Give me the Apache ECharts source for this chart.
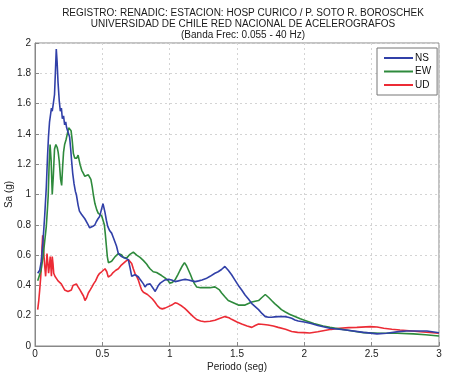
<!DOCTYPE html>
<html>
<head>
<meta charset="utf-8">
<script src="https://cdn.jsdelivr.net/npm/echarts@6/dist/echarts.min.js"></script>
<style>html,body{margin:0;padding:0;background:#fff}#c{width:450px;height:377px}</style>
</head>
<body>
<div id="c"></div>
<script>
const titleLines = ['REGISTRO: RENADIC: ESTACION: HOSP CURICO / P. SOTO R. BOROSCHEK','UNIVERSIDAD DE CHILE RED NACIONAL DE ACELEROGRAFOS','(Banda Frec: 0.055 - 40 Hz)'];
const seriesNames = ['NS','EW','UD'];
const xTicks = [0,0.5,1,1.5,2,2.5,3];
const yTicks = [0,0.2,0.4,0.6,0.8,1,1.2,1.4,1.6,1.8,2];

const nsPeriod = [0.02,0.035,0.047,0.06,0.072,0.084,0.093,0.1,0.108,0.115,0.122,0.128,0.136,0.145,0.152,0.158,0.164,0.171,0.18,0.188,0.196,0.203,0.212,0.22,0.228,0.235,0.245,0.257,0.265,0.272,0.28,0.29,0.3,0.307,0.32,0.33,0.345,0.356,0.37,0.381,0.395,0.406,0.418,0.43,0.445,0.455,0.468,0.48,0.493,0.505,0.511,0.52,0.53,0.54,0.555,0.569,0.58,0.594,0.605,0.619,0.63,0.643,0.668,0.693,0.705,0.718,0.73,0.742,0.755,0.767,0.78,0.792,0.805,0.817,0.83,0.841,0.855,0.866,0.878,0.891,0.905,0.916,0.93,0.94,0.965,0.99,1.015,1.04,1.065,1.09,1.115,1.14,1.165,1.19,1.215,1.24,1.27,1.3,1.336,1.36,1.385,1.41,1.435,1.46,1.485,1.51,1.535,1.56,1.585,1.61,1.635,1.66,1.685,1.71,1.735,1.757,1.78,1.806,1.83,1.856,1.88,1.906,1.93,1.955,2.0,2.05,2.1,2.19,2.31,2.44,2.54,2.61,2.7,2.76,2.91,3.0];
const nsSa = [0.48,0.50,0.56,0.70,0.86,1.05,1.25,1.38,1.48,1.49,1.57,1.55,1.60,1.66,1.82,1.96,1.88,1.74,1.62,1.55,1.57,1.50,1.52,1.46,1.48,1.44,1.43,1.38,1.30,1.22,1.14,1.07,1.02,1.0,0.93,0.89,0.87,0.865,0.84,0.83,0.80,0.78,0.78,0.79,0.80,0.82,0.84,0.855,0.90,0.94,0.93,0.88,0.83,0.79,0.76,0.745,0.72,0.71,0.66,0.61,0.60,0.59,0.58,0.57,0.52,0.46,0.47,0.47,0.465,0.457,0.44,0.436,0.41,0.39,0.405,0.414,0.41,0.40,0.38,0.36,0.38,0.40,0.415,0.425,0.436,0.44,0.436,0.425,0.43,0.436,0.44,0.436,0.43,0.425,0.43,0.436,0.445,0.46,0.48,0.49,0.505,0.525,0.50,0.47,0.435,0.40,0.37,0.337,0.31,0.28,0.26,0.24,0.215,0.194,0.19,0.19,0.192,0.194,0.195,0.194,0.19,0.183,0.172,0.165,0.158,0.148,0.135,0.117,0.106,0.09,0.08,0.084,0.095,0.099,0.099,0.088];

const ewPeriod = [0.02,0.03,0.045,0.06,0.072,0.084,0.092,0.098,0.105,0.112,0.12,0.128,0.136,0.145,0.155,0.165,0.172,0.18,0.19,0.198,0.205,0.212,0.22,0.23,0.24,0.25,0.26,0.268,0.276,0.285,0.295,0.31,0.32,0.334,0.347,0.359,0.37,0.384,0.396,0.405,0.415,0.425,0.433,0.445,0.458,0.47,0.483,0.495,0.507,0.515,0.522,0.53,0.537,0.545,0.557,0.569,0.58,0.595,0.606,0.619,0.631,0.645,0.656,0.668,0.68,0.693,0.705,0.718,0.73,0.742,0.755,0.767,0.78,0.792,0.804,0.817,0.83,0.841,0.854,0.866,0.878,0.891,0.903,0.916,0.94,0.965,0.99,1.0,1.02,1.04,1.06,1.077,1.095,1.11,1.125,1.14,1.155,1.17,1.185,1.2,1.23,1.26,1.3,1.336,1.35,1.37,1.386,1.41,1.435,1.46,1.485,1.51,1.56,1.585,1.61,1.635,1.66,1.685,1.71,1.735,1.757,1.78,1.806,1.83,1.856,1.89,1.93,1.97,2.0,2.07,2.14,2.19,2.31,2.44,2.56,2.69,2.81,2.9,3.0];
const ewSa = [0.43,0.44,0.50,0.59,0.69,0.79,0.90,0.99,1.20,1.33,1.22,1.0,1.12,1.30,1.33,1.31,1.28,1.22,1.10,1.06,1.18,1.28,1.33,1.36,1.40,1.44,1.45,1.42,1.36,1.27,1.24,1.24,1.26,1.20,1.16,1.14,1.12,1.12,1.13,1.14,1.10,1.05,1.00,0.94,0.90,0.875,0.865,0.86,0.85,0.80,0.74,0.66,0.59,0.55,0.54,0.56,0.57,0.59,0.60,0.61,0.615,0.60,0.585,0.575,0.58,0.59,0.605,0.615,0.62,0.61,0.60,0.595,0.585,0.575,0.565,0.555,0.54,0.525,0.51,0.50,0.49,0.49,0.485,0.48,0.465,0.45,0.43,0.415,0.42,0.436,0.47,0.50,0.53,0.55,0.53,0.50,0.47,0.436,0.41,0.39,0.385,0.385,0.385,0.39,0.385,0.37,0.35,0.325,0.30,0.29,0.28,0.27,0.27,0.28,0.29,0.295,0.30,0.32,0.34,0.32,0.30,0.28,0.26,0.24,0.226,0.21,0.195,0.18,0.17,0.148,0.132,0.123,0.106,0.088,0.084,0.084,0.08,0.074,0.066];

const udPeriod = [0.02,0.028,0.035,0.042,0.047,0.052,0.057,0.062,0.067,0.073,0.079,0.084,0.089,0.095,0.101,0.107,0.113,0.118,0.122,0.128,0.134,0.139,0.148,0.158,0.171,0.183,0.195,0.207,0.22,0.233,0.245,0.257,0.27,0.282,0.295,0.307,0.32,0.334,0.347,0.36,0.371,0.384,0.396,0.41,0.423,0.435,0.45,0.465,0.48,0.495,0.507,0.52,0.533,0.544,0.555,0.567,0.58,0.6,0.619,0.637,0.656,0.675,0.693,0.705,0.718,0.73,0.742,0.755,0.767,0.78,0.792,0.805,0.817,0.835,0.854,0.872,0.89,0.91,0.928,0.945,0.965,0.99,1.015,1.04,1.06,1.09,1.11,1.126,1.15,1.175,1.2,1.23,1.26,1.3,1.336,1.37,1.41,1.44,1.46,1.5,1.535,1.575,1.61,1.635,1.66,1.7,1.73,1.77,1.806,1.86,1.906,1.95,2.0,2.04,2.1,2.14,2.2,2.26,2.33,2.39,2.49,2.54,2.59,2.65,2.71,2.8,2.86,2.93,3.0];
const udSa = [0.24,0.30,0.37,0.45,0.52,0.65,0.73,0.65,0.59,0.52,0.46,0.53,0.61,0.55,0.48,0.53,0.59,0.52,0.46,0.59,0.54,0.48,0.46,0.45,0.43,0.44,0.41,0.40,0.37,0.38,0.36,0.35,0.37,0.40,0.41,0.41,0.39,0.37,0.35,0.33,0.30,0.32,0.35,0.37,0.39,0.41,0.43,0.46,0.48,0.49,0.50,0.51,0.49,0.455,0.46,0.47,0.485,0.50,0.51,0.53,0.545,0.56,0.57,0.575,0.545,0.51,0.48,0.46,0.436,0.40,0.37,0.355,0.348,0.34,0.325,0.31,0.29,0.265,0.25,0.245,0.25,0.26,0.27,0.285,0.28,0.264,0.25,0.237,0.215,0.194,0.175,0.165,0.16,0.163,0.17,0.182,0.194,0.186,0.176,0.158,0.145,0.132,0.123,0.135,0.145,0.142,0.139,0.132,0.123,0.11,0.096,0.09,0.088,0.086,0.094,0.101,0.11,0.117,0.121,0.123,0.128,0.125,0.117,0.111,0.106,0.099,0.094,0.089,0.084];

const colors = ['#3140a8','#2e8a3c','#ec2b35'];
const zip = (a,b) => a.map((v,i)=>[v,b[i]]);
const seriesData = [zip(nsPeriod,nsSa), zip(ewPeriod,ewSa), zip(udPeriod,udSa)];

const chart = echarts.init(document.getElementById('c'), null, {renderer:'canvas'});
const font = 'Liberation Sans, Arial, sans-serif';
chart.setOption({
  animation:false,
  backgroundColor:'#fff',
  textStyle:{fontFamily:font},
  title:{
    text: titleLines.join('\n'),
    left: 238, top: 3, textAlign:'center',
    textStyle:{fontSize:10, fontWeight:'normal', color:'#1a1a1a', lineHeight:11, fontFamily:font}
  },
  legend:{
    data: seriesNames,
    orient:'vertical', left:377, top:48,
    backgroundColor:'#fff', borderColor:'#777', borderWidth:1,
    padding:[5,6,5,7],
    itemWidth:29, itemHeight:2, itemGap:3.5, icon:'rect',
    textStyle:{fontSize:10, color:'#111', fontFamily:font, padding:[0,0,0,-3]}
  },
  grid:{left:35, right:11, top:43, bottom:31, show:true, borderColor:'#888', borderWidth:1, outerBoundsMode:'none', containLabel:false},
  xAxis:{
    type:'value', min:0, max:3, interval:0.5,
    name:'Periodo (seg)', nameLocation:'middle', nameGap:16, nameMoveOverlap:false,
    nameTextStyle:{fontSize:10, color:'#222', fontFamily:font},
    axisLine:{show:true, lineStyle:{color:'#888'}},
    axisTick:{show:true, inside:true, length:4, lineStyle:{color:'#888'}},
    axisLabel:{fontSize:10, color:'#222', margin:3, fontFamily:font},
    splitLine:{show:true, lineStyle:{color:'#d4d4d4', type:[2,3]}}
  },
  yAxis:{
    type:'value', min:0, max:2, interval:0.2,
    name:'Sa (g)', nameLocation:'middle', nameGap:21, nameRotate:90, nameMoveOverlap:false,
    nameTextStyle:{fontSize:10, color:'#222', fontFamily:font},
    axisLine:{show:true, lineStyle:{color:'#888'}},
    axisTick:{show:true, inside:true, length:4, lineStyle:{color:'#888'}},
    axisLabel:{fontSize:10, color:'#222', margin:4, fontFamily:font, formatter:(v)=>String(Math.round(v*10)/10)},
    splitLine:{show:true, lineStyle:{color:'#d4d4d4', type:[2,3]}}
  },
  series: seriesNames.map((n,i)=>({
    name:n, type:'line', data:seriesData[i], showSymbol:false, symbol:'none',
    lineStyle:{color:colors[i], width:1.6}, itemStyle:{color:colors[i]}, z: 3-i
  }))
});
</script>
</body>
</html>
